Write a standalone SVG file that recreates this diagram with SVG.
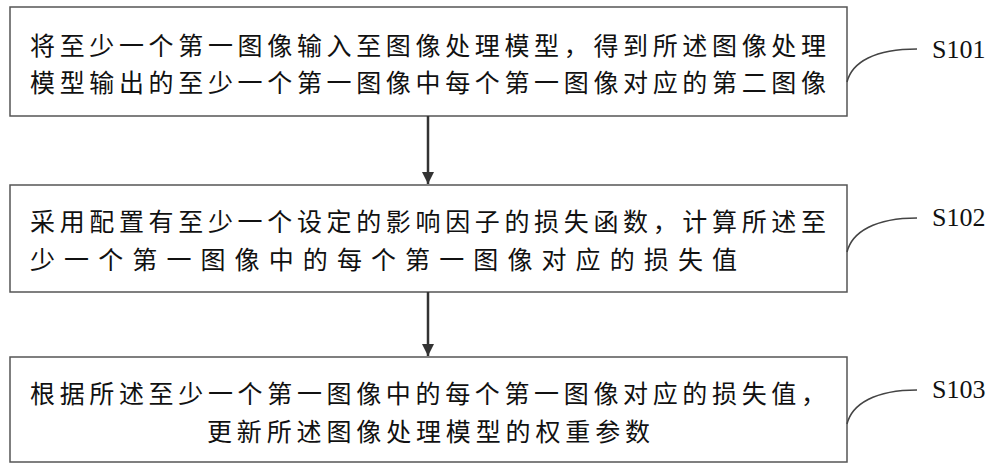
<svg xmlns="http://www.w3.org/2000/svg" width="1000" height="476" viewBox="0 0 1000 476">
<style>
.b{fill:#fff;stroke:#555;stroke-width:1.5}
.t{font-family:"Noto Sans CJK SC",sans-serif;font-size:25px;fill:#111}
.l{font-family:"Liberation Serif",serif;font-size:26px;fill:#111}
.c{fill:none;stroke:#444;stroke-width:1.5}
.ar{fill:none;stroke:#333;stroke-width:2.5}
</style>
<defs><marker id="a" viewBox="0 0 10 10" refX="10" refY="5" markerWidth="5" markerHeight="5" orient="auto"><path d="M0,0L10,5L0,10z" fill="#333"/></marker></defs>
<g id="n1"><rect class="b" x="10" y="7" width="837" height="109"/>
<text class="t" x="30" y="55" textLength="796">将至少一个第一图像输入至图像处理模型，得到所述图像处理</text>
<text class="t" x="30" y="92" textLength="796">模型输出的至少一个第一图像中每个第一图像对应的第二图像</text></g>
<g id="n2"><rect class="b" x="10" y="185" width="837" height="107"/>
<text class="t" x="30" y="231" textLength="796">采用配置有至少一个设定的影响因子的损失函数，计算所述至</text>
<text class="t" x="30" y="269" textLength="707">少一个第一图像中的每个第一图像对应的损失值</text></g>
<g id="n3"><rect class="b" x="10" y="357" width="837" height="105"/>
<text class="t" x="30" y="403" textLength="796">根据所述至少一个第一图像中的每个第一图像对应的损失值，</text>
<text class="t" x="207" y="441" textLength="443">更新所述图像处理模型的权重参数</text></g>
<g id="S101"><text class="l" x="932" y="58">S101</text></g>
<g id="S102"><text class="l" x="932" y="226">S102</text></g>
<g id="S103"><text class="l" x="932" y="398">S103</text></g>
<g id="connectors">
<line class="ar" x1="428" y1="116" x2="428" y2="184" marker-end="url(#a)"/>
<line class="ar" x1="428" y1="292" x2="428" y2="356" marker-end="url(#a)"/>
<path class="c" d="M847,82 C852,62 875,49 917,49"/>
<path class="c" d="M847,252 C852,232 875,218 917,218"/>
<path class="c" d="M847,424 C852,404 875,390 917,390"/>
</g>
</svg>
